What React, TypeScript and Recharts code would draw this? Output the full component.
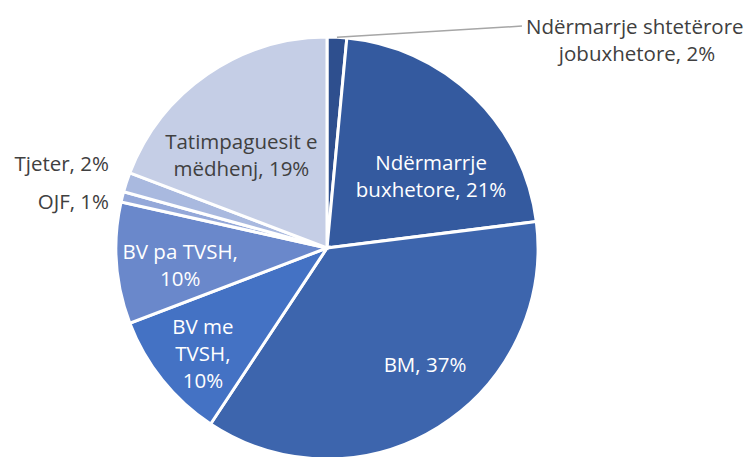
import React from 'react';
import { PieChart, Pie, Cell } from 'recharts';

const categories = [
  'Ndërmarrje shtetërore jobuxhetore',
  'Ndërmarrje buxhetore',
  'BM',
  'BV me TVSH',
  'BV pa TVSH',
  'OJF',
  'Tjeter',
  'Tatimpaguesit e mëdhenj',
];
const shares = [1.5, 21.5, 36.3, 9.9, 9.3, 0.8, 1.5, 19.2];
const labelPercents = ['2%', '21%', '37%', '10%', '10%', '1%', '2%', '19%'];
const labelLines = [
  ['Ndërmarrje shtetërore', 'jobuxhetore, 2%'],
  ['Ndërmarrje', 'buxhetore, 21%'],
  ['BM, 37%'],
  ['BV me', 'TVSH,', '10%'],
  ['BV pa TVSH,', '10%'],
  ['OJF, 1%'],
  ['Tjeter, 2%'],
  ['Tatimpaguesit e', 'mëdhenj, 19%'],
];
const colors = ['#2E4F8E', '#345A9F', '#3D65AD', '#4472C4', '#6A88CB', '#94A8D9', '#A9B9DF', '#C5CEE6'];

// label layout: radius fraction, clockwise angle shift (deg), anchor, text color
const labelLayout = [
  { r: 1.4, shift: 38.6, anchor: 'start', color: '#404040' },
  { r: 0.6, shift: 11.2, anchor: 'middle', color: '#ffffff' },
  { r: 0.72, shift: -8.3, anchor: 'middle', color: '#ffffff' },
  { r: 0.77, shift: -1.5, anchor: 'middle', color: '#ffffff' },
  { r: 0.7, shift: -2.2, anchor: 'middle', color: '#ffffff' },
  { r: 1.057, shift: -1.8, anchor: 'end', color: '#404040' },
  { r: 1.11, shift: 3.2, anchor: 'end', color: '#404040' },
  { r: 0.6, shift: -8, anchor: 'middle', color: '#404040' },
];

const data = categories.map((name, i) => ({ name, value: shares[i], pct: labelPercents[i] }));

const RAD = Math.PI / 180;
const FONT = "'Open Sans', sans-serif";
const FS = 20.5;
const LH = 27;

const renderLabel = (props: any) => {
  const { cx, cy, midAngle, outerRadius, index } = props;
  const lay = labelLayout[index];
  const ang = midAngle - lay.shift;
  const r = outerRadius * lay.r;
  const x = cx + r * Math.cos(-ang * RAD);
  const y = cy + r * Math.sin(-ang * RAD);
  const lines = labelLines[index];
  const startY = y - ((lines.length - 1) * LH) / 2;
  if (index === 0) {
    const ex = cx + outerRadius * Math.cos(-midAngle * RAD);
    const ey = cy + outerRadius * Math.sin(-midAngle * RAD);
    return (
      <g>
        <polyline points={`${ex},${ey} ${x},${y}`} stroke="#A6A6A6" strokeWidth={1.5} fill="none" />
        <text x={x + 4} y={y} fill={lay.color} fontFamily={FONT} fontSize={FS} dominantBaseline="central" textAnchor="start">
          {lines[0]}
        </text>
        <text x={x + 115} y={y + LH} fill={lay.color} fontFamily={FONT} fontSize={FS} dominantBaseline="central" textAnchor="middle">
          {lines[1]}
        </text>
      </g>
    );
  }
  return (
    <text fill={lay.color} fontFamily={FONT} fontSize={FS} textAnchor={lay.anchor} dominantBaseline="central">
      {lines.map((l, k) => (
        <tspan key={k} x={x} y={startY + k * LH} dominantBaseline="central">
          {l}
        </tspan>
      ))}
    </text>
  );
};

export default function App() {
  return (
    <div style={{ position: 'absolute', left: 0, top: 0, width: 751, height: 457, background: '#fff' }}>
      <PieChart width={751} height={457} margin={{ top: 0, right: 0, bottom: 0, left: 0 }}>
        <Pie
          data={data}
          dataKey="value"
          nameKey="name"
          cx={327}
          cy={248}
          outerRadius={211}
          startAngle={90}
          endAngle={-270}
          stroke="#ffffff"
          strokeWidth={3}
          label={renderLabel}
          labelLine={false}
          isAnimationActive={false}
        >
          {data.map((d, i) => (
            <Cell key={d.name} fill={colors[i]} />
          ))}
        </Pie>
      </PieChart>
    </div>
  );
}
